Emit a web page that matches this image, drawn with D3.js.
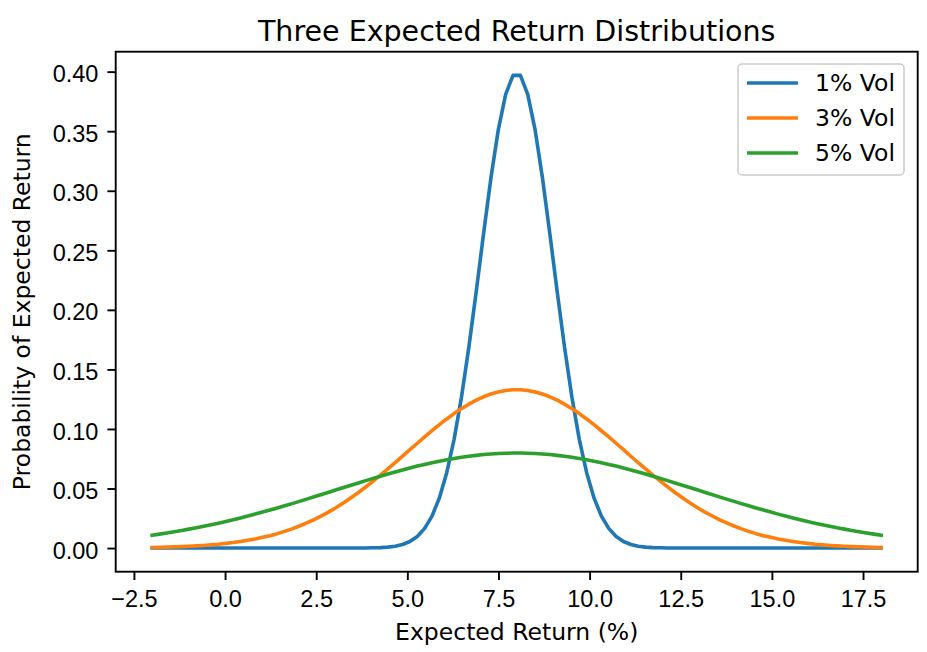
<!DOCTYPE html>
<html>
<head>
<meta charset="utf-8">
<script src="https://cdn.jsdelivr.net/npm/d3@7"></script>
<style>
  body { margin: 0; background: #fff; }
  svg { font-family: "DejaVu Sans", sans-serif; }
</style>
</head>
<body>
<div id="chart"></div>
<script>
// sample points on the x axis (expected return, %)
var xs = [
  -2.000, -1.798, -1.596, -1.394, -1.192, -0.990, -0.788, -0.586, -0.384, -0.182,
  0.020, 0.222, 0.424, 0.626, 0.828, 1.030, 1.232, 1.434, 1.636, 1.838,
  2.040, 2.242, 2.444, 2.646, 2.848, 3.051, 3.253, 3.455, 3.657, 3.859,
  4.061, 4.263, 4.465, 4.667, 4.869, 5.071, 5.273, 5.475, 5.677, 5.879,
  6.081, 6.283, 6.485, 6.687, 6.889, 7.091, 7.293, 7.495, 7.697, 7.899,
  8.101, 8.303, 8.505, 8.707, 8.909, 9.111, 9.313, 9.515, 9.717, 9.919,
  10.121, 10.323, 10.525, 10.727, 10.929, 11.131, 11.333, 11.535, 11.737, 11.939,
  12.141, 12.343, 12.545, 12.747, 12.949, 13.152, 13.354, 13.556, 13.758, 13.960,
  14.162, 14.364, 14.566, 14.768, 14.970, 15.172, 15.374, 15.576, 15.778, 15.980,
  16.182, 16.384, 16.586, 16.788, 16.990, 17.192, 17.394, 17.596, 17.798, 18.000
];

var vol1 = [
  0, 0, 0, 0, 0, 0, 0, 0, 0, 0,
  0, 0, 0, 0, 0, 0, 0, 0, 0, 0,
  0, 0, 0, 0, 0, 0, 0, 0, 0, 0.0001,
  0.0002, 0.0004, 0.0008, 0.0015, 0.0030, 0.0055, 0.0097, 0.0165, 0.0268, 0.0421,
  0.0633, 0.0913, 0.1266, 0.1685, 0.2152, 0.2639, 0.3107, 0.3512, 0.3810, 0.3969,
  0.3969, 0.3810, 0.3512, 0.3107, 0.2639, 0.2152, 0.1685, 0.1266, 0.0913, 0.0633,
  0.0421, 0.0268, 0.0165, 0.0097, 0.0055, 0.0030, 0.0015, 0.0008, 0.0004, 0.0002,
  0.0001, 0, 0, 0, 0, 0, 0, 0, 0, 0,
  0, 0, 0, 0, 0, 0, 0, 0, 0, 0,
  0, 0, 0, 0, 0, 0, 0, 0, 0, 0
];

var vol3 = [
  0.0005, 0.0006, 0.0008, 0.0010, 0.0012, 0.0015, 0.0018, 0.0022, 0.0027, 0.0032,
  0.0039, 0.0046, 0.0055, 0.0065, 0.0076, 0.0090, 0.0104, 0.0121, 0.0140, 0.0161,
  0.0185, 0.0211, 0.0239, 0.0271, 0.0304, 0.0341, 0.0380, 0.0422, 0.0466, 0.0513,
  0.0562, 0.0612, 0.0664, 0.0717, 0.0771, 0.0826, 0.0880, 0.0933, 0.0985, 0.1036,
  0.1084, 0.1129, 0.1171, 0.1208, 0.1242, 0.1270, 0.1293, 0.1311, 0.1323, 0.1329,
  0.1329, 0.1323, 0.1311, 0.1293, 0.1270, 0.1242, 0.1208, 0.1171, 0.1129, 0.1084,
  0.1036, 0.0985, 0.0933, 0.0880, 0.0826, 0.0771, 0.0717, 0.0664, 0.0612, 0.0562,
  0.0513, 0.0466, 0.0422, 0.0380, 0.0341, 0.0304, 0.0271, 0.0239, 0.0211, 0.0185,
  0.0161, 0.0140, 0.0121, 0.0104, 0.0090, 0.0076, 0.0065, 0.0055, 0.0046, 0.0039,
  0.0032, 0.0027, 0.0022, 0.0018, 0.0015, 0.0012, 0.0010, 0.0008, 0.0006, 0.0005
];

var vol5 = [
  0.0108, 0.0117, 0.0127, 0.0137, 0.0147, 0.0159, 0.0170, 0.0183, 0.0196, 0.0209,
  0.0223, 0.0238, 0.0253, 0.0269, 0.0285, 0.0302, 0.0319, 0.0337, 0.0355, 0.0373,
  0.0392, 0.0411, 0.0430, 0.0450, 0.0469, 0.0489, 0.0508, 0.0528, 0.0547, 0.0566,
  0.0585, 0.0603, 0.0621, 0.0639, 0.0656, 0.0672, 0.0688, 0.0702, 0.0716, 0.0729,
  0.0741, 0.0752, 0.0762, 0.0771, 0.0778, 0.0785, 0.0790, 0.0794, 0.0796, 0.0798,
  0.0798, 0.0796, 0.0794, 0.0790, 0.0785, 0.0778, 0.0771, 0.0762, 0.0752, 0.0741,
  0.0729, 0.0716, 0.0702, 0.0688, 0.0672, 0.0656, 0.0639, 0.0621, 0.0603, 0.0585,
  0.0566, 0.0547, 0.0528, 0.0508, 0.0489, 0.0469, 0.0450, 0.0430, 0.0411, 0.0392,
  0.0373, 0.0355, 0.0337, 0.0319, 0.0302, 0.0285, 0.0269, 0.0253, 0.0238, 0.0223,
  0.0209, 0.0196, 0.0183, 0.0170, 0.0159, 0.0147, 0.0137, 0.0127, 0.0117, 0.0108
];

var seriesNames = ["1% Vol", "3% Vol", "5% Vol"];
var seriesColors = ["#1f77b4", "#ff7f0e", "#2ca02c"];

var xTicks = [-2.5, 0, 2.5, 5, 7.5, 10, 12.5, 15, 17.5];
var yTicks = [0, 0.05, 0.10, 0.15, 0.20, 0.25, 0.30, 0.35, 0.40];

// figure and axes box (pixels) -- careful, "top" is taken by window.top
var W = 927, H = 652;
var axLeft = 115.7, axRight = 917.7, axTop = 51.7, axBottom = 571.7;

var svg = d3.select("#chart")
    .append("svg")
    .attr("width", W)
    .attr("height", H);

// same 5% padding matplotlib puts round the data
var x = d3.scaleLinear().domain([-3, 19]).range([axLeft, axRight]);
var y = d3.scaleLinear().domain([-0.01985, 0.41675]).range([axBottom, axTop]);

var tickFont = 23.5;

// x axis
var xAxis = svg.append("g")
    .attr("transform", "translate(0," + axBottom + ")")
    .call(d3.axisBottom(x).tickValues(xTicks).tickFormat(d3.format(".1f"))
        .tickSize(8.3).tickPadding(10).tickSizeOuter(0));
xAxis.select(".domain").remove();
xAxis.selectAll(".tick line").attr("stroke", "#000").attr("stroke-width", 1.9);
xAxis.selectAll(".tick text").attr("fill", "#000")
    .style("font-size", tickFont + "px");

// y axis
var yAxis = svg.append("g")
    .attr("transform", "translate(" + axLeft + ",0)")
    .call(d3.axisLeft(y).tickValues(yTicks).tickFormat(d3.format(".2f"))
        .tickSize(8.3).tickPadding(9).tickSizeOuter(0));
yAxis.select(".domain").remove();
yAxis.selectAll(".tick line").attr("stroke", "#000").attr("stroke-width", 1.9);
yAxis.selectAll(".tick text").attr("fill", "#000")
    .attr("dy", "0.43em")
    .style("font-size", tickFont + "px");

// the three curves
var allSeries = [vol1, vol3, vol5];
var line = d3.line()
    .x(function(d, i) { return x(xs[i]); })
    .y(function(d) { return y(d); });

svg.selectAll("path.curve")
    .data(allSeries)
    .enter()
    .append("path")
    .attr("class", "curve")
    .attr("d", line)
    .attr("fill", "none")
    .attr("stroke", function(d, i) { return seriesColors[i]; })
    .attr("stroke-width", 3.6)
    .attr("stroke-linejoin", "round")
    .attr("stroke-linecap", "square");

// axes frame
svg.append("rect")
    .attr("x", axLeft)
    .attr("y", axTop)
    .attr("width", axRight - axLeft)
    .attr("height", axBottom - axTop)
    .attr("fill", "none")
    .attr("stroke", "#000")
    .attr("stroke-width", 1.9);

// title and labels
svg.append("text")
    .attr("x", (axLeft + axRight) / 2)
    .attr("y", 41)
    .attr("text-anchor", "middle")
    .style("font-size", "28.5px")
    .text("Three Expected Return Distributions");

svg.append("text")
    .attr("x", (axLeft + axRight) / 2)
    .attr("y", 640)
    .attr("text-anchor", "middle")
    .style("font-size", tickFont + "px")
    .text("Expected Return (%)");

svg.append("text")
    .attr("transform", "translate(30," + ((axTop + axBottom) / 2) + ") rotate(-90)")
    .attr("text-anchor", "middle")
    .style("font-size", tickFont + "px")
    .text("Probability of Expected Return");

// legend
var legend = svg.append("g");
legend.append("rect")
    .attr("x", 738)
    .attr("y", 64)
    .attr("width", 166)
    .attr("height", 111)
    .attr("rx", 4)
    .attr("fill", "#fff")
    .attr("fill-opacity", 0.8)
    .attr("stroke", "#cccccc")
    .attr("stroke-width", 1.5);

var rows = legend.selectAll("g.row")
    .data(seriesNames)
    .enter()
    .append("g")
    .attr("class", "row")
    .attr("transform", function(d, i) { return "translate(0," + (83 + i * 35) + ")"; });

rows.append("line")
    .attr("x1", 747).attr("x2", 798)
    .attr("y1", 0).attr("y2", 0)
    .attr("stroke", function(d, i) { return seriesColors[i]; })
    .attr("stroke-width", 3.6);

rows.append("text")
    .attr("x", 815)
    .attr("y", 8.3)
    .style("font-size", tickFont + "px")
    .text(function(d) { return d; });
</script>
</body>
</html>
